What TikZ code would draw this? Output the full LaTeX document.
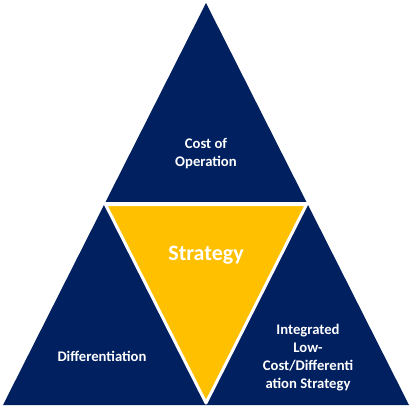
\documentclass[tikz,border=0pt]{standalone}
\usepackage{fontspec}
\setmainfont{Carlito}
\definecolor{navy}{HTML}{002060}
\definecolor{gold}{HTML}{FFC000}
\begin{document}
\begin{tikzpicture}[x=1pt,y=-1pt,
  lbl/.style={text=white,font=\bfseries\fontsize{14.67}{18}\selectfont,align=center,inner sep=0pt}]
\useasboundingbox (0,0) rectangle (417,415);
\fill[white] (0,0) rectangle (417,415);
\coordinate (A) at (206,3);
\coordinate (BL) at (3,405);
\coordinate (BR) at (409,405);
\fill[navy] (A) -- (BL) -- (BR) -- cycle;
\draw[white,line width=3.5pt] (95,203.5) -- (318,203.5);
\coordinate (Y1) at (105.5,204.5);
\coordinate (Y2) at (306.5,204.5);
\coordinate (Y3) at (206,403);
\filldraw[fill=gold,draw=white,line width=3pt,line join=round] (Y1) -- (Y2) -- (Y3) -- cycle;
\fill[white] (0,405.5) rectangle (417,415);
\node[lbl] (cost) at (206,154) {Cost of\\Operation};
\node[lbl,font=\bfseries\fontsize{22}{26}\selectfont] (strat) at (206,255) {Strategy};
\node[lbl] (diff) at (102,356) {Differentiation};
\node[lbl] (integ) at (308,358) {Integrated\\Low-\\Cost/Differenti\\ation Strategy};
\end{tikzpicture}
\end{document}
